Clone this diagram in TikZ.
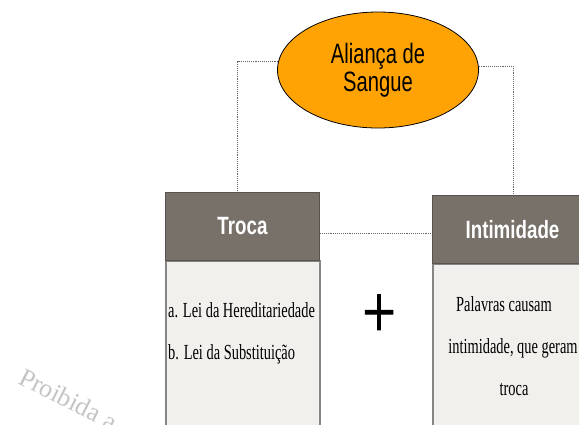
\documentclass[tikz,border=0pt]{standalone}
\usepackage{fontspec}
\setmainfont{Liberation Serif}
\newfontfamily\ellfont[FakeStretch=0.72]{Liberation Sans}
\newfontfamily\headfont[FakeStretch=0.75]{Liberation Sans}
\newfontfamily\bodyfont[FakeStretch=0.67]{Liberation Serif}
\newfontfamily\plusfont[FakeStretch=0.78,FakeBold=1.2]{Liberation Serif}
\newfontfamily\wmfont{Liberation Serif}
\usetikzlibrary{shapes.geometric}
\definecolor{hdrfill}{HTML}{77716A}
\definecolor{hdrline}{HTML}{5A524C}
\definecolor{bodyfill}{HTML}{F1F0EC}
\definecolor{bodyline}{HTML}{858585}
\definecolor{ellfill}{HTML}{FFA304}
\definecolor{connline}{HTML}{666666}
\definecolor{wmgray}{HTML}{C4C4C4}
\begin{document}
\begin{tikzpicture}[x=1pt,y=-1pt,
  hdrbox/.style={rectangle, draw=hdrline, line width=1pt, fill=hdrfill, inner sep=0pt,
    text=white, font=\headfont\bfseries\fontsize{25}{30}\selectfont, anchor=north west},
  bodybox/.style={rectangle, draw=bodyline, line width=1.5pt, fill=bodyfill, inner sep=0pt, anchor=north west},
  bodytext/.style={font=\bodyfont\fontsize{21.5}{24}\selectfont, inner sep=0pt, text=black},
  conn/.style={draw=connline, densely dotted, line width=0.9pt}]
\useasboundingbox (0,0) rectangle (579,424);
\clip (0,0) rectangle (579,424);
\fill[white] (0,0) rectangle (579,424);
% watermark
\node[font=\wmfont\fontsize{26}{26}\selectfont, text=wmgray, rotate=-27, anchor=base west, inner sep=0pt] (wm) at (17,383) {Proibida a};
% ellipse
\node[ellipse, draw=black, line width=0.8pt, fill=ellfill, minimum width=201pt, minimum height=116pt,
  inner sep=0pt, align=center, font=\ellfont\fontsize{28}{28}\selectfont] (ell) at (378,70) {Aliança de\\Sangue};
% boxes
\node[bodybox, minimum width=154pt, minimum height=200pt] (trocabody) at (165,260) {};
\node[hdrbox, minimum width=154pt, minimum height=68pt] (trocahead) at (165,192) {Troca};
\node[bodybox, minimum width=160pt, minimum height=200pt] (intbody) at (432,263) {};
\node[hdrbox, minimum width=160pt, minimum height=68pt] (inthead) at (432,195) {Intimidade};
% body texts
\node[bodytext, anchor=base west] (t1) at (168,317) {a. Lei da Hereditariedade};
\node[bodytext, anchor=base west] (t2) at (168,359) {b. Lei da Substituição};
\node[bodytext, anchor=base] (i1) at (504,311) {Palavras causam};
\node[bodytext, anchor=base] (i2) at (513,353) {intimidade, que geram};
\node[bodytext, anchor=base] (i3) at (514,395) {troca};
% plus
\node[font=\plusfont\fontsize{76}{76}\selectfont, inner sep=0pt] (plus) at (379,316) {+};
% connectors
\draw[conn] (ell.175) -| ([xshift=-5pt]trocahead.north);
\draw[conn] (ell.2) -| ([xshift=1pt]inthead.north);
\draw[conn] ([yshift=-7pt]trocahead.east) -- ([yshift=-4pt]inthead.west);
\end{tikzpicture}
\end{document}
